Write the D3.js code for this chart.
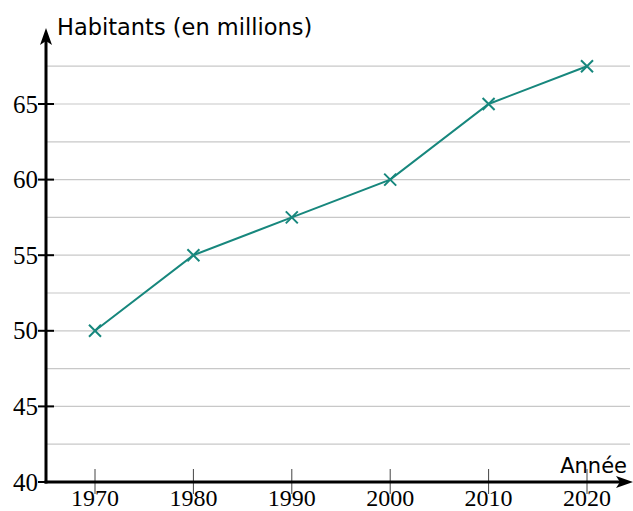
<!DOCTYPE html>
<html><head><meta charset="utf-8">
<script src="https://cdn.jsdelivr.net/npm/d3@7"></script>
<style>body{margin:0;background:#fff}svg{display:block}</style>
</head><body>
<script>
const years = [1970, 1980, 1990, 2000, 2010, 2020];
const habitants = [50, 55, 57.5, 60, 65, 67.5];
const yTicks = [40, 45, 50, 55, 60, 65];
const gridValues = [42.5, 45, 47.5, 50, 52.5, 55, 57.5, 60, 62.5, 65, 67.5];

const W = 633, H = 511;
const svg = d3.select("body").append("svg").attr("width", W).attr("height", H);
const x = d3.scaleLinear().domain([1970, 2020]).range([95, 587]);
const y = d3.scaleLinear().domain([40, 65]).range([482, 104]);
const x0 = 46;

// grid
svg.append("g").selectAll("line").data(gridValues).join("line")
  .attr("x1", x0).attr("x2", 630).attr("y1", d => y(d)).attr("y2", d => y(d))
  .attr("stroke", "#c8c8c8").attr("stroke-width", 1.2);

// x ticks
svg.append("g").selectAll("line").data(years).join("line")
  .attr("x1", d => x(d)).attr("x2", d => x(d)).attr("y1", 469).attr("y2", 494)
  .attr("stroke", "#444").attr("stroke-width", 1);
svg.append("g").selectAll("text").data(years).join("text")
  .attr("x", d => x(d)).attr("y", 505.5).attr("text-anchor", "middle")
  .attr("font-family", "Liberation Serif, DejaVu Serif, serif").attr("font-size", 24)
  .text(d => d);

// y ticks
svg.append("g").selectAll("line").data(yTicks).join("line")
  .attr("x1", 38).attr("x2", 54).attr("y1", d => y(d)).attr("y2", d => y(d))
  .attr("stroke", "#000").attr("stroke-width", 2);
svg.append("g").selectAll("text").data(yTicks).join("text")
  .attr("x", 38).attr("y", d => y(d) + 8.5).attr("text-anchor", "end")
  .attr("font-family", "Liberation Serif, DejaVu Serif, serif").attr("font-size", 25)
  .text(d => d);

// axes
svg.append("line").attr("x1", x0).attr("x2", x0).attr("y1", 483.5).attr("y2", 40)
  .attr("stroke", "#000").attr("stroke-width", 3);
svg.append("line").attr("x1", x0 - 1.5).attr("x2", 622).attr("y1", 482).attr("y2", 482)
  .attr("stroke", "#000").attr("stroke-width", 3);
svg.append("path").attr("d", `M${x0},28 L${x0+6},45 L${x0},41 L${x0-6},45 Z`).attr("fill", "#000");
svg.append("path").attr("d", `M633,482 L616,488 L620,482 L616,476 Z`).attr("fill", "#000");

// labels
svg.append("text").attr("x", 57).attr("y", 35)
  .attr("font-family", "DejaVu Sans, sans-serif").attr("font-size", 22.5)
  .text("Habitants (en millions)");
svg.append("text").attr("x", 627).attr("y", 473).attr("text-anchor", "end")
  .attr("font-family", "DejaVu Sans, sans-serif").attr("font-size", 21)
  .text("Année");

// line
const teal = "#17877d";
svg.append("path").datum(years.map((d, i) => [d, habitants[i]]))
  .attr("d", d3.line().x(d => x(d[0])).y(d => y(d[1])))
  .attr("fill", "none").attr("stroke", teal).attr("stroke-width", 2);
svg.append("g").selectAll("path").data(years.map((d, i) => [d, habitants[i]])).join("path")
  .attr("d", d => { const cx = x(d[0]), cy = y(d[1]), s = 6;
    return `M${cx-s},${cy-s}L${cx+s},${cy+s}M${cx-s},${cy+s}L${cx+s},${cy-s}`; })
  .attr("stroke", teal).attr("stroke-width", 2).attr("fill", "none");
</script>
</body></html>
